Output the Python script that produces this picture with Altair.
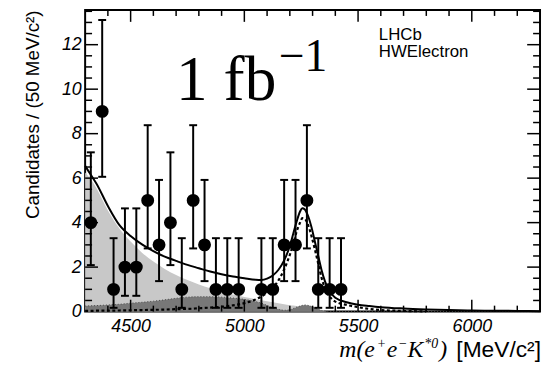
import altair as alt
import pandas as pd

# ---------------- data ----------------
bin_mass = [4325, 4375, 4425, 4475, 4525, 4575, 4625, 4675, 4725, 4775, 4825,
            4875, 4925, 4975, 5075, 5125, 5175, 5225, 5275, 5325, 5375, 5425]
counts   = [4, 9, 1, 2, 2, 5, 3, 4, 1, 5, 3,
            1, 1, 1, 1, 1, 3, 3, 5, 1, 1, 1]
err_lo   = [2.09, 6.06, 0.17, 0.71, 0.71, 2.84, 1.37, 2.09, 0.17, 2.84, 1.37,
            0.17, 0.17, 0.17, 0.17, 0.17, 1.37, 1.37, 2.84, 0.17, 0.17, 0.17]
err_hi   = [7.16, 13.11, 3.30, 4.64, 4.64, 8.38, 5.92, 7.16, 3.30, 8.38, 5.92,
            3.30, 3.30, 3.30, 3.30, 3.30, 5.92, 5.92, 8.38, 3.30, 3.30, 3.30]

curve_mass = [4300, 4325, 4350, 4400, 4450, 4500, 4550, 4600, 4650, 4700, 4750,
              4800, 4850, 4900, 4950, 5000, 5050, 5075, 5100, 5125, 5150, 5175,
              5200, 5215, 5230, 5245, 5255, 5265, 5280, 5295, 5310, 5325, 5340,
              5355, 5375, 5400, 5450, 5500, 5550, 5600, 5700, 5800, 5900, 6000,
              6100, 6200, 6300]
total_fit  = [6.55, 6.15, 5.75, 4.75, 3.90, 3.40, 3.02, 2.72, 2.47, 2.28, 2.10,
              1.95, 1.80, 1.68, 1.58, 1.50, 1.43, 1.42, 1.48, 1.62, 1.88, 2.30,
              2.95, 3.50, 4.05, 4.50, 4.65, 4.60, 4.30, 3.80, 3.15, 2.50, 1.85,
              1.35, 0.90, 0.62, 0.42, 0.31, 0.25, 0.20, 0.14, 0.10, 0.07, 0.05,
              0.04, 0.03, 0.02]
signal_fit = [0.03, 0.03, 0.04, 0.04, 0.05, 0.06, 0.07, 0.08, 0.09, 0.11, 0.12,
              0.15, 0.18, 0.22, 0.28, 0.38, 0.55, 0.68, 0.85, 1.08, 1.40, 1.90,
              2.55, 3.05, 3.60, 4.00, 4.20, 4.18, 3.90, 3.40, 2.80, 2.15, 1.50,
              1.05, 0.68, 0.45, 0.30, 0.20, 0.12, 0.07, 0.03, 0.01, 0.0, 0.0,
              0.0, 0.0, 0.0]
light_bkg  = [6.25, 5.95, 5.55, 4.55, 3.75, 3.15, 2.65, 2.25, 1.92, 1.65, 1.42,
              1.22, 1.05, 0.90, 0.77, 0.66, 0.56, 0.51, 0.46, 0.42, 0.37, 0.33,
              0.29, 0.27, 0.25, 0.23, 0.21, 0.20, 0.17, 0.15, 0.12, 0.09, 0.06,
              0.03, 0.0, 0.0, 0.0, 0.0, 0.0, 0.0, 0.0, 0.0, 0.0, 0.0,
              0.0, 0.0, 0.0]
dark_bkg   = [0.25, 0.26, 0.27, 0.30, 0.33, 0.38, 0.42, 0.47, 0.53, 0.60, 0.65,
              0.67, 0.67, 0.65, 0.61, 0.55, 0.45, 0.38, 0.28, 0.18, 0.10, 0.06,
              0.08, 0.14, 0.20, 0.25, 0.28, 0.30, 0.28, 0.23, 0.17, 0.10, 0.05,
              0.02, 0.0, 0.0, 0.0, 0.0, 0.0, 0.0, 0.0, 0.0, 0.0, 0.0,
              0.0, 0.0, 0.0]

x_labels = [4500, 5000, 5500, 6000]
x_minor  = [4400, 4600, 4700, 4800, 4900, 5100, 5200, 5300, 5400, 5600, 5700,
            5800, 5900, 6100, 6200]
y_labels = [0, 2, 4, 6, 8, 10, 12]
y_major  = [2, 4, 6, 8, 10, 12]
y_minor  = [0.5, 1, 1.5, 2.5, 3, 3.5, 4.5, 5, 5.5, 6.5, 7, 7.5, 8.5, 9, 9.5,
            10.5, 11, 11.5, 12.5, 13, 13.5]

# ---------------- chart ----------------
W, H = 460, 305
xs = alt.Scale(domain=[4300, 6300], nice=False, zero=False)
ys = alt.Scale(domain=[0, 13.56], nice=False, zero=False)

curves = pd.DataFrame({"m": curve_mass, "total": total_fit, "sig": signal_fit,
                       "light": light_bkg, "dark": dark_bkg})
sig_df = curves[curves["m"] <= 5800]
pts = pd.DataFrame({"m": bin_mass, "n": counts, "lo": err_lo, "hi": err_hi})

LAB_FONT = "Liberation Sans"

x_axis = alt.Axis(values=x_labels, format="d", ticks=False, domain=False, grid=False,
                  title=None, labelFont=LAB_FONT, labelFontSize=18,
                  labelFontStyle="italic", labelColor="black", labelPadding=6)
y_axis = alt.Axis(values=y_labels, format="d", ticks=False, domain=False, grid=False,
                  title="Candidates / (50 MeV/c²)", titleFont=LAB_FONT,
                  titleFontSize=19, titleFontWeight="normal", titleColor="black",
                  titleAnchor="end", titleAlign="right", titleBaseline="middle",
                  titleAngle=270, titleX=-53, titleY=0,
                  labelFont=LAB_FONT, labelFontSize=18, labelFontStyle="italic",
                  labelColor="black", labelPadding=4)


def X(field):
    return alt.X(field, scale=xs, axis=x_axis)


def Y(field):
    return alt.Y(field, scale=ys, axis=y_axis)


light_area = alt.Chart(curves).mark_area(color="#c8c8c8", interpolate="monotone").encode(
    x=X("m:Q"), y=Y("light:Q"))
dark_area = alt.Chart(curves).mark_area(color="#787878", interpolate="monotone").encode(
    x=X("m:Q"), y=Y("dark:Q"))
dark_edge = alt.Chart(curves).mark_line(color="#4a4a4a", strokeWidth=1,
                                        strokeDash=[1, 2], interpolate="monotone").encode(
    x=X("m:Q"), y=Y("dark:Q"))
sig_line = alt.Chart(sig_df).mark_line(color="black", strokeWidth=2.2,
                                       strokeDash=[3, 2.5], interpolate="monotone").encode(
    x=X("m:Q"), y=Y("sig:Q"))
tot_line = alt.Chart(curves).mark_line(color="black", strokeWidth=2,
                                       interpolate="monotone").encode(
    x=X("m:Q"), y=Y("total:Q"))
err_rule = alt.Chart(pts).mark_rule(color="black", strokeWidth=2).encode(
    x=X("m:Q"), y=Y("lo:Q"), y2="hi:Q")
cap_lo = alt.Chart(pts).mark_tick(color="black", orient="horizontal", size=8,
                                  thickness=2, opacity=1).encode(x=X("m:Q"), y=Y("lo:Q"))
cap_hi = alt.Chart(pts).mark_tick(color="black", orient="horizontal", size=8,
                                  thickness=2, opacity=1).encode(x=X("m:Q"), y=Y("hi:Q"))
markers = alt.Chart(pts).mark_point(filled=True, shape="circle", size=170,
                                    color="black", opacity=1).encode(x=X("m:Q"), y=Y("n:Q"))


def xticks(vals, length):
    d = pd.DataFrame({"m": vals})
    bot = alt.Chart(d).mark_rule(color="black", strokeWidth=1.5).encode(
        x=X("m:Q"), y=alt.value(H), y2=alt.value(H - length))
    top = alt.Chart(d).mark_rule(color="black", strokeWidth=1.5).encode(
        x=X("m:Q"), y=alt.value(0), y2=alt.value(length))
    return [bot, top]


def yticks(vals, length):
    d = pd.DataFrame({"n": vals})
    left = alt.Chart(d).mark_rule(color="black", strokeWidth=1.5).encode(
        y=Y("n:Q"), x=alt.value(0), x2=alt.value(length))
    right = alt.Chart(d).mark_rule(color="black", strokeWidth=1.5).encode(
        y=Y("n:Q"), x=alt.value(W), x2=alt.value(W - length))
    return [left, right]


tick_layers = xticks(x_labels, 12) + xticks(x_minor, 6) + yticks(y_major, 13) + yticks(y_minor, 7)

# annotation texts
lumi_text = ["1 fb"]
lumi_sup = ["\u22121"]
exp_text = ["LHCb"]
tag_text = ["HWElectron"]
xt_parts = ["m(e", "+", "e", "\u2212", "K", "*0", ")"]
xt_units = ["[MeV/c\u00b2]"]


def label(txt, x, y, font, size, align="left", style="normal"):
    return alt.Chart(pd.DataFrame({"t": txt})).mark_text(
        font=font, fontSize=size, align=align, baseline="alphabetic",
        fontStyle=style, color="black").encode(
        x=alt.value(x), y=alt.value(y), text="t:N")


TB = 351  # baseline of x-axis title (plot coords)
SERIF = "Liberation Serif"
texts = [
    label(lumi_text, 92, 91, SERIF, 64),
    label(lumi_sup, 196, 62, SERIF, 46),
    label(exp_text, 297, 30, LAB_FONT, 17),
    label(tag_text, 297, 48, LAB_FONT, 17),
    label([xt_parts[0]], 257, TB, SERIF, 24, style="italic"),
    label([xt_parts[1]], 295, TB - 9, SERIF, 14, style="italic"),
    label([xt_parts[2]], 305, TB, SERIF, 24, style="italic"),
    label([xt_parts[3]], 316.5, TB - 9, SERIF, 14, style="italic"),
    label([xt_parts[4]], 326, TB, SERIF, 24, style="italic"),
    label([xt_parts[5]], 343, TB - 9, SERIF, 14, style="italic"),
    label([xt_parts[6]], 358, TB, SERIF, 24, style="italic"),
    label(xt_units, 461, TB, LAB_FONT, 23, align="right"),
]

chart = alt.layer(
    light_area, dark_area, dark_edge, sig_line, tot_line,
    err_rule, cap_lo, cap_hi, markers, *tick_layers, *texts
).properties(
    width=W, height=H,
    autosize=alt.AutoSizeParams(type="none"),
    padding={"left": 78, "top": 0, "right": 2, "bottom": 52},
    background="white",
).configure_view(stroke="black", strokeWidth=2)

chart.save("out.html", embed_options={"renderer": "svg", "actions": False})
